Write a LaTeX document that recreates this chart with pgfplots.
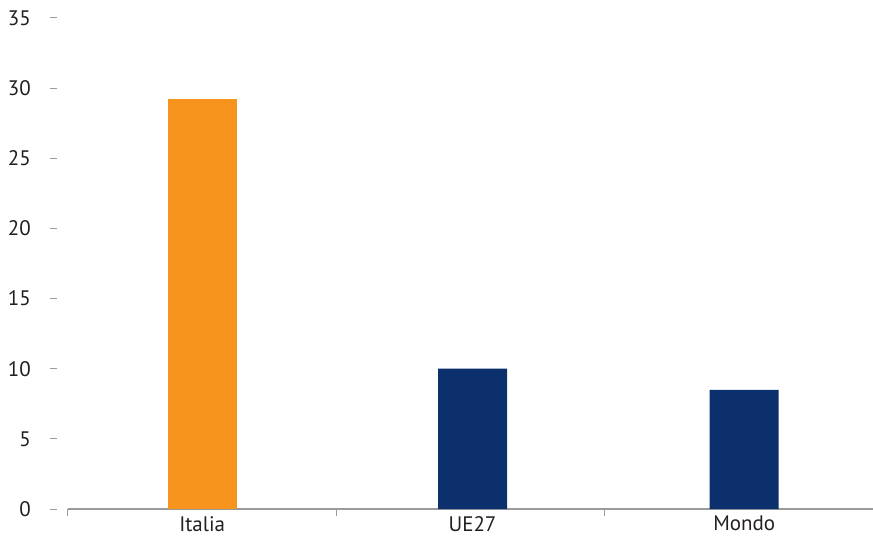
\documentclass[border=0pt]{standalone}
\usepackage{pgfplots}
\pgfplotsset{compat=1.18}
\usepackage{fontspec}
\setmainfont{PT Sans}
\definecolor{barorange}{HTML}{F7941D}
\definecolor{barnavy}{HTML}{0B306B}
\definecolor{axgray}{HTML}{9A9A9A}
\definecolor{txt}{HTML}{231F20}
\begin{document}
\fontsize{21bp}{24bp}\selectfont
\begin{tikzpicture}
\path[use as bounding box] (-68bp,-28bp) rectangle (805bp,509bp);
\begin{axis}[
  at={(0,0)}, anchor=south west,
  scale only axis,
  width=805bp, height=491bp,
  xmin=-0.5, xmax=2.5,
  ymin=0, ymax=35,
  axis x line*=bottom,
  axis y line*=left,
  y axis line style={draw=none},
  x axis line style={draw=axgray, line width=1.5bp},
  xtick={0,1.0075,2.02},
  xticklabels={Italia,UE27,Mondo},
  minor xtick={-0.5,0.5,1.5,2.5},
  ytick={0,5,...,35},
  tick align=outside,
  major tick length=0pt,
  minor tick length=7bp,
  minor tick style={draw=axgray, line width=1bp},
  ytick style={draw=none},
  ticklabel style={font=\fontsize{21bp}{24bp}\selectfont, text=txt},
  yticklabel style={anchor=east, xshift=-30bp},
  xticklabel style={anchor=north, yshift=0bp},
  /pgf/number format/assume math mode=true,
  clip=false,
]
\addplot[ybar, bar width=69bp, fill=barorange, draw=none] coordinates {(0,29.2)};
\addplot[ybar, bar width=69bp, fill=barnavy, draw=none] coordinates {(1.0075,10.0) (2.02,8.5)};
\pgfplotsinvokeforeach{0,5,...,35}{
  \draw[axgray, line width=1bp] ([xshift=-18bp]axis cs:-0.5,#1) -- ([xshift=-11bp]axis cs:-0.5,#1);
}
\end{axis}
\end{tikzpicture}
\end{document}
